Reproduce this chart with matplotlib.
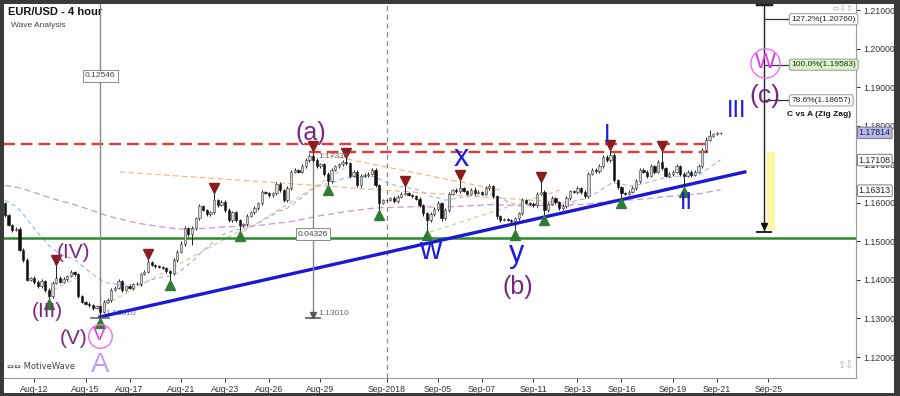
import numpy as np
import pandas as pd
import matplotlib
matplotlib.use("Agg")
import matplotlib.pyplot as plt
from matplotlib.patches import Rectangle

plt.rcParams['font.family'] = ['Liberation Sans', 'DejaVu Sans']

# EUR/USD 4 hour closes, first bar Thu 2018-08-09 16:00
close = [
    1.1568, 1.1542, 1.1529, 1.1532, 1.1478, 1.1452, 1.1400, 1.1405, 1.1395, 1.1384,
    1.1397, 1.1374, 1.1358, 1.1392, 1.1405, 1.1395, 1.1402, 1.1410, 1.1421, 1.1415,
    1.1358, 1.1343, 1.1338, 1.1335, 1.1327, 1.1332, 1.1317, 1.1343, 1.1348, 1.1374,
    1.1379, 1.1397, 1.1374, 1.1384, 1.1379, 1.1389, 1.1389, 1.1415, 1.1421, 1.1447,
    1.1439, 1.1436, 1.1434, 1.1431, 1.1423, 1.1418, 1.1452, 1.1473, 1.1494, 1.1534,
    1.1519, 1.1534, 1.1560, 1.1591, 1.1581, 1.1571, 1.1576, 1.1607, 1.1594, 1.1602,
    1.1581, 1.1555, 1.1576, 1.1555, 1.1542, 1.1545, 1.1565, 1.1576, 1.1586, 1.1599,
    1.1628, 1.1625, 1.1620, 1.1625, 1.1649, 1.1633, 1.1607, 1.1638, 1.1680, 1.1685,
    1.1680, 1.1695, 1.1711, 1.1721, 1.1711, 1.1695, 1.1700, 1.1675, 1.1656, 1.1685,
    1.1695, 1.1700, 1.1706, 1.1703, 1.1670, 1.1680, 1.1646, 1.1670, 1.1672, 1.1675,
    1.1685, 1.1646, 1.1599, 1.1607, 1.1607, 1.1612, 1.1604, 1.1615, 1.1623, 1.1625,
    1.1620, 1.1617, 1.1610, 1.1594, 1.1573, 1.1555, 1.1571, 1.1584, 1.1599, 1.1560,
    1.1581, 1.1623, 1.1633, 1.1630, 1.1638, 1.1630, 1.1623, 1.1633, 1.1625, 1.1628,
    1.1623, 1.1638, 1.1643, 1.1617, 1.1565, 1.1555, 1.1557, 1.1555, 1.1552, 1.1560,
    1.1573, 1.1607, 1.1599, 1.1597, 1.1594, 1.1623, 1.1628, 1.1581, 1.1597, 1.1612,
    1.1602, 1.1586, 1.1591, 1.1612, 1.1630, 1.1628, 1.1638, 1.1628, 1.1617, 1.1675,
    1.1685, 1.1682, 1.1695, 1.1719, 1.1711, 1.1724, 1.1659, 1.1641, 1.1625, 1.1623,
    1.1628, 1.1638, 1.1656, 1.1685, 1.1680, 1.1670, 1.1695, 1.1680, 1.1706, 1.1690,
    1.1670, 1.1675, 1.1680, 1.1695, 1.1675, 1.1670, 1.1680, 1.1672, 1.1680, 1.1695,
    1.1737, 1.1763, 1.1773, 1.1778, 1.1781, 1.1781,
]
first_open = 1.1600

# wick length above / below the body, in pips
wick_up = [
    3, 4, 3, 4, 6, 4, 5, 3, 4, 4, 5, 3, 4, 4, 34, 4, 5, 4, 5, 3,
    4, 3, 3, 4, 3, 4, 3, 5, 4, 6, 4, 5, 3, 4, 3, 4, 5, 4, 5, 8,
    3, 3, 2, 3, 3, 4, 5, 4, 6, 5, 4, 5, 4, 6, 3, 3, 4, 18, 4, 5,
    4, 5, 4, 3, 4, 3, 5, 4, 6, 4, 6, 3, 3, 4, 5, 4, 4, 6, 5, 4,
    3, 5, 4, 6, 13, 4, 4, 3, 4, 5, 4, 3, 4, 10, 4, 5, 4, 5, 4, 5,
    6, 4, 3, 4, 3, 4, 5, 4, 5, 18, 3, 4, 3, 4, 3, 4, 5, 4, 6, 4,
    5, 6, 4, 5, 21, 4, 3, 5, 8, 4, 3, 5, 6, 4, 3, 4, 3, 3, 3, 4,
    4, 6, 3, 4, 5, 6, 27, 4, 4, 5, 4, 3, 5, 6, 4, 4, 5, 4, 4, 6,
    4, 5, 6, 5, 6, 13, 4, 3, 3, 4, 4, 5, 6, 5, 4, 5, 6, 4, 6, 29,
    4, 5, 4, 6, 4, 5, 4, 4, 4, 5, 6, 8, 17, 3, 2, 2,
]
wick_dn = [
    4, 3, 4, 3, 4, 5, 4, 3, 5, 4, 4, 5, 8, 4, 3, 4, 3, 4, 3, 4,
    5, 3, 4, 4, 5, 3, 16, 4, 3, 4, 4, 3, 5, 4, 3, 4, 3, 4, 3, 4,
    3, 4, 3, 3, 4, 18, 4, 5, 4, 6, 4, 29, 5, 4, 3, 4, 5, 4, 4, 3,
    5, 6, 4, 5, 15, 4, 4, 3, 4, 5, 4, 3, 4, 4, 5, 6, 6, 4, 4, 3,
    4, 3, 4, 5, 4, 5, 4, 5, 10, 4, 3, 4, 4, 4, 5, 4, 6, 4, 3, 4,
    4, 6, 18, 3, 4, 3, 4, 4, 3, 4, 3, 4, 4, 5, 6, 26, 4, 5, 4, 6,
    5, 4, 3, 4, 4, 3, 4, 3, 4, 3, 4, 3, 4, 5, 6, 4, 3, 3, 4, 23,
    4, 4, 3, 4, 4, 5, 4, 13, 4, 4, 5, 4, 4, 5, 4, 3, 4, 4, 5, 4,
    4, 5, 4, 4, 5, 4, 6, 5, 13, 4, 4, 3, 4, 5, 4, 5, 4, 5, 4, 5,
    4, 4, 5, 4, 5, 30, 4, 4, 3, 4, 4, 5, 4, 3, 2, 2,
]

# swing markers (bar index)
swing_highs = [14, 39, 57, 84, 93, 109, 124, 146, 165, 179]
swing_lows = [12, 26, 45, 64, 88, 102, 115, 139, 147, 168, 185]

tick_dates = ['2018-08-12', '2018-08-15', '2018-08-17', '2018-08-21', '2018-08-23',
              '2018-08-26', '2018-08-29', '2018-09-02', '2018-09-05', '2018-09-07',
              '2018-09-11', '2018-09-13', '2018-09-16', '2018-09-19', '2018-09-21',
              '2018-09-25']
tick_labels = ['Aug-12', 'Aug-15', 'Aug-17', 'Aug-21', 'Aug-23', 'Aug-26', 'Aug-29',
               'Sep-2018', 'Sep-05', 'Sep-07', 'Sep-11', 'Sep-13', 'Sep-16', 'Sep-19',
               'Sep-21', 'Sep-25']

support_level = 1.1508
resistance_levels = [1.1752, 1.1732]
trend_k = [25.9, 201.6]
trend_p = [1.1304, 1.1680]
fib_levels = [1.20760, 1.19583, 1.18657]
fib_names = ['127.2%', '100.0%', '78.6%']
price_tags = [1.17814, 1.17108, 1.16313]

# ---------------------------------------------------------------
# bar clock: Sunday has two bars, weekdays six, no Saturday
times = []
t = pd.Timestamp('2018-08-09 16:00')
while len(times) < 260:
    wd = t.weekday()
    if wd < 5 or (wd == 6 and t.hour >= 16):
        times.append(t)
    t += pd.Timedelta(hours=4)
times = pd.DatetimeIndex(times)
tick_pos = [int(np.argmax(times.normalize() == pd.Timestamp(d))) for d in tick_dates]

close = np.array(close)
opn = np.concatenate([[first_open], close[:-1]])
high = np.maximum(opn, close) + np.array(wick_up) / 10000
low = np.minimum(opn, close) - np.array(wick_dn) / 10000
k = np.arange(len(close))


def ema(vals, span, seed):
    a = 2 / (span + 1)
    out, m = [], seed
    for v in vals:
        m = m + a * (v - m)
        out.append(m)
    return np.array(out)


fig = plt.figure(figsize=(9, 3.96), dpi=100, facecolor='white')
ax = fig.add_axes([3 / 900, 18 / 396, 853 / 900, 375 / 396])
ax.set_xlim(-0.5, 231.9)
ax.set_ylim(1.11456, 1.21182)

# indicators / thin drawings
ax.plot(k, ema(close, 24, 1.1610), color='#9ab4ea', lw=0.8, ls=(0, (4, 3)), zorder=2)
ax.plot(k, ema(close, 150, 1.1646), color='#c896d6', lw=0.9, ls=(0, (5, 3)), zorder=2)
ax.plot([31.3, 155.3], [1.1680, 1.1599], color='#f3b27a', lw=0.8, ls=(0, (5, 3)), zorder=2)
ax.plot([83.7, 134.9], [1.1732, 1.1633], color='#f3b27a', lw=0.8, ls=(0, (5, 3)), zorder=2)
ax.plot([27.2, 66.8], [1.1335, 1.1542], color='#d9c48f', lw=0.8, ls=(0, (4, 3)), zorder=2)
ax.plot([64.9, 92.6], [1.1524, 1.1690], color='#d9c48f', lw=0.8, ls=(0, (4, 3)), zorder=2)
ax.plot([115.8, 151.2], [1.1524, 1.1633], color='#d9c48f', lw=0.8, ls=(0, (4, 3)), zorder=2)
ax.plot([11.5, 20.5], [1.1365, 1.1410], color='#d9c48f', lw=0.8, ls=(0, (4, 3)), zorder=2)

# levels
ax.axhline(support_level, color='#2b8a2b', lw=1.8, zorder=3)
ax.plot([-0.5, 191.8], [resistance_levels[0]] * 2, color='#e23b3b', lw=1.7,
        ls=(0, (5, 2.5)), zorder=3)
ax.plot([83.0, 191.5], [resistance_levels[1]] * 2, color='#e23b3b', lw=1.7,
        ls=(0, (5, 2.5)), zorder=3)
ax.plot(trend_k, trend_p, color='#1a1ad6', lw=2.4, zorder=4)

# Sep-2018 separator
ax.axvline(tick_pos[7], color='#8a8a8a', lw=0.9, ls=(0, (4, 3)), zorder=1)

# candles
ax.vlines(k, low, high, color='#222222', lw=0.7, zorder=5)
body = np.maximum(np.abs(close - opn), 0.00008)
up = close >= opn
ax.bar(k[up], body[up], bottom=np.minimum(opn, close)[up], width=0.62,
       color='#d4d4d4', edgecolor='#3a3a3a', linewidth=0.4, zorder=6)
ax.bar(k[~up], body[~up], bottom=np.minimum(opn, close)[~up], width=0.62,
       color='#111111', edgecolor='#111111', linewidth=0.4, zorder=6)

ax.plot(swing_highs, high[swing_highs] + 0.0013, 'v', color='#8b1d1d', ms=6.5, zorder=7)
ax.plot(swing_lows, low[swing_lows] - 0.0013, '^', color='#2e7d32', ms=6.5, zorder=7)

# measurement lines
ax.plot([26, 26], [1.1301, 1.2118], color='#8a8a8a', lw=1.0, zorder=4)
ax.plot([23.5, 28.5], [1.1301, 1.1301], color='#666666', lw=1.2, zorder=4)
ax.plot([84, 84], [1.17336, 1.1301], color='#8a8a8a', lw=1.0, zorder=4)
ax.plot([82, 86], [1.1301, 1.1301], color='#555555', lw=1.2, zorder=4)
ax.plot([84], [1.1310], 'v', color='#555555', ms=4, zorder=4)
box = dict(boxstyle='square,pad=0.25', fc='white', ec='#8a8a8a', lw=0.7)
ax.text(26, 1.1929, '0.12546', fontsize=6, color='#444444', ha='center', va='center',
        bbox=box, zorder=8)
ax.text(84, 1.1519, '0.04326', fontsize=6, color='#444444', ha='center', va='center',
        bbox=box, zorder=8)
ax.text(85.3, 1.1719, '1.17336', fontsize=6, color='#666666', va='center', zorder=8)
ax.text(85.3, 1.1314, '1.13010', fontsize=6, color='#666666', va='center', zorder=8)
ax.text(27.5, 1.1314, '1.13010', fontsize=6, color='#777777', va='center', zorder=3)

# C vs A projection
fk = 206.8
ax.plot([fk, fk], [1.1530, 1.2118], color='#222222', lw=1.0, zorder=4)
ax.plot([fk - 2, fk + 2], [1.2115, 1.2115], color='#222222', lw=2.5, zorder=4)
ax.plot([fk - 2, fk + 2], [1.1525, 1.1525], color='#222222', lw=1.4, zorder=4)
ax.plot([fk], [1.1540], 'v', color='#111111', ms=5, zorder=4)
ax.add_patch(Rectangle((207.6, 1.1529), 2.2, 0.0203, fc='#fff6a3', ec='none', zorder=3))
for lv, nm in zip(fib_levels, fib_names):
    ax.plot([fk, 213.9], [lv, lv], color='#333333', lw=0.9, zorder=4)
    fc = '#d8f5c6' if nm == '100.0%' else 'white'
    ax.text(214.3, lv, f'{nm}({lv:.5f})', fontsize=6, color='#222222', va='center',
            bbox=dict(boxstyle='round,pad=0.25', fc=fc, ec='#999999', lw=0.7), zorder=8)
ax.text(230.5, 1.1830, 'C vs A (Zig Zag)', fontsize=6, fontweight='bold',
        color='#111111', ha='right', va='center', zorder=8)

# wave labels
purple = '#7b2584'
blue = '#1c1ce0'
ax.text(11.7, 1.1317, '(III)', fontsize=15, color=purple, ha='center', va='center', zorder=9)
ax.text(18.8, 1.1470, '(IV)', fontsize=15, color=purple, ha='center', va='center', zorder=9)
ax.text(18.8, 1.1249, '(V)', fontsize=15, color=purple, ha='center', va='center', zorder=9)
ax.plot([25.9], [1.1255], 'o', ms=17, mfc='none', mec='#f06cf0', mew=1.0, zorder=9)
ax.text(25.9, 1.1255, 'V', fontsize=14, color='#e03ee0', ha='center', va='center', zorder=9)
ax.text(25.9, 1.1179, 'A', fontsize=20, color='#c79cf2', ha='center', va='center', zorder=9)
ax.text(83.4, 1.1781, '(a)', fontsize=18, color=purple, ha='center', va='center', zorder=9)
ax.text(139.8, 1.1382, '(b)', fontsize=18, color=purple, ha='center', va='center', zorder=9)
ax.text(207.1, 1.1877, '(c)', fontsize=19, color=purple, ha='center', va='center', zorder=9)
ax.plot([207.1], [1.1963], 'o', ms=21, mfc='none', mec='#f06cf0', mew=1.0, zorder=9)
ax.text(207.1, 1.1963, 'W', fontsize=16, color='#e03ee0', ha='center', va='center', zorder=9)
ax.text(124.3, 1.1716, 'x', fontsize=22, color=blue, ha='center', va='center', zorder=9)
ax.text(115.8, 1.1476, 'w', fontsize=22, color=blue, ha='center', va='center', zorder=9)
ax.text(139.5, 1.1466, 'y', fontsize=22, color=blue, ha='center', va='center', zorder=9)
ax.text(164.0, 1.1776, 'I', fontsize=17, color=blue, ha='center', va='center', zorder=9)
ax.text(185.6, 1.1600, 'II', fontsize=17, color=blue, ha='center', va='center', zorder=9)
ax.text(199.5, 1.1838, 'III', fontsize=17, color=blue, ha='center', va='center', zorder=9)

# chart furniture
ax.text(0.006, 0.976, 'EUR/USD - 4 hour', transform=ax.transAxes, fontsize=8,
        fontweight='bold', color='#111111', va='center')
ax.text(0.009, 0.941, 'Wave Analysis', transform=ax.transAxes, fontsize=6,
        color='#444444', va='center')
ax.text(0.005, 0.018, '⇔⇔ MotiveWave', transform=ax.transAxes, fontsize=6,
        color='#444444', va='bottom', family=['DejaVu Sans'])
ax.text(0.997, 0.997, '⇨⇩⇧', transform=ax.transAxes, fontsize=6, color='#aaaaaa',
        ha='right', va='top', family=['DejaVu Sans'])
ax.text(0.997, 0.02, '⇧⇩', transform=ax.transAxes, fontsize=7, color='#aaaaaa',
        ha='right', va='bottom', family=['DejaVu Sans'])

ax.yaxis.tick_right()
yt = np.round(np.arange(1.12, 1.2101, 0.01), 2)
ax.set_yticks(yt)
ax.set_yticklabels([f'{v:.5f}' for v in yt])
ax.set_xticks(tick_pos)
ax.set_xticklabels(tick_labels)
ax.tick_params(axis='both', labelsize=6.3, colors='#333333', length=3, width=0.7, pad=2)
for s in ax.spines.values():
    s.set_color('#9a9a9a')
    s.set_linewidth(0.8)

for i, pv in enumerate(price_tags):
    fc = '#b8b8f0' if i == 0 else 'white'
    ax.annotate(f'{pv:.5f}', xy=(1.0, pv), xycoords=('axes fraction', 'data'),
                xytext=(2, 0), textcoords='offset points', fontsize=6.3, color='#222222',
                va='center', ha='left', annotation_clip=False, zorder=10,
                bbox=dict(boxstyle='round,pad=0.15', fc=fc, ec='#666666', lw=0.6))

fig.patches.append(Rectangle((0, 0), 1, 1, transform=fig.transFigure, fill=False,
                             ec='#3a3a3a', lw=5))
fig.patches.append(Rectangle((894 / 900, 0), 6 / 900, 1, transform=fig.transFigure,
                             fc='#3a3a3a', ec='none'))

fig.savefig('out.png', dpi=100, facecolor='white')
